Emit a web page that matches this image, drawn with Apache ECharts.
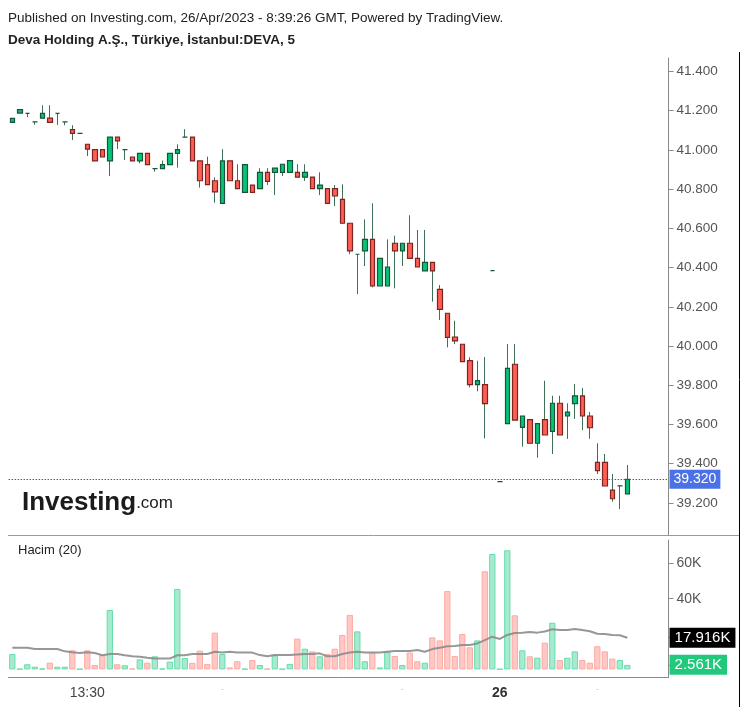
<!DOCTYPE html>
<html>
<head>
<meta charset="utf-8">
<script src="https://cdn.jsdelivr.net/npm/echarts@6/dist/echarts.min.js"></script>
<style>
html,body{margin:0;padding:0;background:#fff;}
#c{width:747px;height:707px;}
</style>
</head>
<body>
<div id="c"></div>
<script>
// ---- categories (5-minute bars) ----
const times = [
 '12:40','12:45','12:50','12:55','13:00','13:05','13:10','13:15','13:20','13:25',
 '13:30','13:35','13:40','13:45','13:50','13:55','14:00','14:05','14:10','14:15',
 '14:20','14:25','14:30','14:35','14:40','14:45','14:50','14:55','15:00','15:05',
 '15:10','15:15','15:20','15:25','15:30','15:35','15:40','15:45','15:50','15:55',
 '16:00','16:05','16:10','16:15','16:20','16:25','16:30','16:35','16:40','16:45',
 '16:50','16:55','17:00','17:05','17:10','17:15','17:20','17:25','17:30','17:35',
 '17:40','17:45','17:50','17:55','18:05','09:55','10:00','10:05','10:10','10:15',
 '10:20','10:25','10:30','10:35','10:40','10:45','10:50','10:55','11:00','11:05',
 '11:10','11:15','11:20','11:25','11:30','11:35','11:40','11:45'
];
// ---- OHLC ----
const opens = [
 41.141,41.188,41.187,41.143,41.162,41.162,41.187,41.143,41.104,41.085,
 41.029,41.002,41.002,40.944,41.065,41.002,40.964,40.944,40.983,40.905,
 40.905,40.925,40.983,41.065,41.065,40.944,40.925,40.843,40.728,40.944,
 40.843,40.784,40.821,40.803,40.886,40.886,40.886,40.886,40.886,40.861,
 40.861,40.803,40.803,40.803,40.748,40.626,40.468,40.485,40.544,40.306,
 40.306,40.524,40.485,40.524,40.447,40.383,40.427,40.289,40.167,40.046,
 40.009,39.925,39.803,39.803,40.384,39.308,39.604,39.907,39.585,39.624,
 39.504,39.624,39.565,39.708,39.643,39.706,39.746,39.643,39.406,39.406,
 39.265,39.287,39.246
];
const closes = [
 41.161,41.206,41.187,41.143,41.187,41.141,41.187,41.143,41.085,41.085,
 41.004,40.944,40.964,41.065,41.046,41.002,40.944,40.983,40.925,40.905,
 40.925,40.983,41.002,41.065,40.944,40.843,40.823,40.786,40.944,40.843,
 40.803,40.925,40.784,40.886,40.840,40.907,40.927,40.946,40.861,40.886,
 40.803,40.821,40.728,40.765,40.626,40.485,40.468,40.544,40.306,40.447,
 40.403,40.485,40.524,40.447,40.403,40.427,40.383,40.187,40.044,40.026,
 39.920,39.803,39.823,39.706,40.384,39.308,39.886,39.622,39.643,39.504,
 39.604,39.546,39.708,39.546,39.663,39.746,39.643,39.583,39.364,39.286,
 39.221,39.287,39.320
];
const lows = [
 41.141,41.188,41.167,41.129,41.162,41.141,41.128,41.126,41.051,41.085,
 40.969,40.944,40.964,40.867,41.005,40.949,40.944,40.932,40.925,40.889,
 40.905,40.925,40.910,41.065,40.944,40.808,40.823,40.731,40.728,40.843,
 40.803,40.784,40.784,40.803,40.821,40.770,40.867,40.886,40.861,40.842,
 40.803,40.770,40.728,40.714,40.626,40.469,40.265,40.408,40.299,40.306,
 40.306,40.294,40.408,40.447,40.403,40.383,40.226,40.133,39.993,40.010,
 39.920,39.789,39.769,39.529,40.384,39.308,39.604,39.622,39.486,39.504,
 39.430,39.546,39.449,39.546,39.526,39.628,39.571,39.527,39.347,39.286,
 39.206,39.168,39.246
];
const highs = [
 41.161,41.206,41.187,41.143,41.228,41.228,41.187,41.143,41.126,41.085,
 41.029,41.002,41.002,41.065,41.065,41.002,40.964,40.983,40.983,40.905,
 40.946,40.983,41.029,41.106,41.065,40.944,40.966,40.860,41.004,40.944,
 40.927,40.925,40.821,40.907,40.907,40.907,40.927,40.946,40.927,40.927,
 40.861,40.886,40.803,40.821,40.825,40.626,40.468,40.646,40.728,40.447,
 40.544,40.563,40.524,40.667,40.592,40.592,40.427,40.311,40.167,40.129,
 40.009,39.942,39.925,39.944,40.384,39.308,40.010,40.010,39.643,39.624,
 39.604,39.823,39.746,39.746,39.708,39.806,39.786,39.663,39.504,39.449,
 39.347,39.287,39.393
];
// ---- volume (thousands) ----
const volumes = [
 8.7,0.3,2.9,1.5,0.5,3.8,1.5,1.5,10.8,0.2,
 10.8,2.5,8.1,33.6,2.9,2.3,0.5,5.7,3.8,7.4,
 0.5,4.4,45.5,6.4,3.7,10.6,3.1,20.8,8.7,1.1,
 4.6,0.3,5.3,2.5,0.3,8.0,0.3,3.1,17.4,11.7,
 10.2,7.4,8.7,11.7,19.5,30.8,21.5,4.6,9.5,1.1,
 10.2,7.6,2.5,9.5,4.6,3.8,18.1,16.4,44.3,7.6,
 20.0,12.5,16.4,55.5,65.3,0.2,67.4,30.6,10.8,7.4,
 6.6,15.1,26.4,5.3,6.6,10.2,5.3,3.8,13.1,10.2,
 6.1,5.3,2.561
];
// ---- volume moving average (20), thousands ----
const volumeMA = [
 12.3,12.3,12.3,11.5,11.5,11.5,11.5,10.2,9.7,9.3,
 9.7,9.3,8.0,8.7,8.7,8.0,7.4,7.2,6.6,6.1,
 6.1,6.1,8.0,8.0,8.7,8.7,8.7,10.0,9.5,10.0,
 9.5,9.5,9.5,8.1,7.4,8.1,8.1,8.1,8.4,8.7,
 8.7,9.1,7.4,7.4,8.7,9.5,10.0,9.5,9.5,9.5,
 10.0,10.4,10.4,10.4,11.0,10.0,11.5,12.3,13.1,13.3,
 13.8,13.8,14.7,16.6,18.5,17.2,19.5,20.6,20.8,21.2,
 20.8,21.4,22.7,22.3,22.3,22.9,22.3,21.6,20.2,20.0,
 19.5,19.3,17.916
];
// ---- tick labels ----
const priceTicks = [39.2,39.4,39.6,39.8,40.0,40.2,40.4,40.6,40.8,41.0,41.2,41.4];
const volumeTicks = [40,60];
const timeTickCats = ['13:30','15:00','17:00','09:55','11:00'];
const timeTickTexts = ['13:30','-','-','26','-'];

// ---- build ----
const UP_FILL='#05c476', UP_BORDER='#17553a', DN_FILL='#ff5e54', DN_BORDER='#7c2420', WICK='#3f6f57';
const LAST_LINE='#2a5cff';
const wickData = opens.map((o,i)=>[o,closes[i],lows[i],highs[i]]);
const bodyData = opens.map((o,i)=>{
  const c=closes[i];
  const item={value:[o,c,Math.min(o,c),Math.max(o,c)]};
  if(o===c) item.itemStyle={borderColor:UP_BORDER,borderColor0:UP_BORDER};
  return item;
});
const volData = volumes.map((v,i)=>{
  const up = closes[i]>=opens[i];
  return {value:v,itemStyle:{color:up?'#a6ead0':'#ffc8c4',borderColor:up?'#66dcab':'#ffa9a3'}};
});
const tickIdx = timeTickCats.map(t=>times.indexOf(t));
const lastClose = closes[closes.length-1];
const lastMA = volumeMA[volumeMA.length-1];
const lastVol = volumes[volumes.length-1];

const FONT='"Liberation Sans", Arial, sans-serif';
const HIDDEN='rgba(0,0,0,0)';
const chart = echarts.init(document.getElementById('c'),null,{renderer:'canvas'});
chart.setOption({
  animation:false,
  backgroundColor:'#fff',
  textStyle:{fontFamily:FONT},
  grid:[
    {left:8.55,top:58,width:660,height:477},
    {left:8.55,top:540,width:660,height:137}
  ],
  xAxis:[
    {type:'category',gridIndex:0,data:times,boundaryGap:true,show:false},
    {type:'category',gridIndex:1,data:times,boundaryGap:true,
     axisLine:{onZero:false,lineStyle:{color:'#8a8a8a',width:1}},
     axisTick:{alignWithLabel:true,length:5,interval:(i)=>tickIdx.includes(i),lineStyle:{color:'#8a8a8a'}},
     axisLabel:{interval:(i)=>tickIdx.includes(i),margin:9,color:'#444',fontSize:14,fontFamily:FONT,
       formatter:(v)=>{const k=timeTickCats.indexOf(v);if(k<0)return '';const t=timeTickTexts[k];
         if(t==='26')return '{b|26}'; if(t==='-')return '{d|-}'; return t;},
       rich:{b:{fontWeight:'bold',fontSize:14,color:'#333',fontFamily:FONT},d:{fontSize:7,color:'#aaa'}}},
     splitLine:{show:false}}
  ],
  yAxis:[
    {type:'value',gridIndex:0,position:'right',min:39.036,max:41.469,scale:true,
     axisLine:{show:true,lineStyle:{color:'#8a8a8a'}},
     axisTick:{show:true,length:5,customValues:priceTicks,lineStyle:{color:'#8a8a8a'}},
     axisLabel:{customValues:priceTicks,formatter:(v)=>v.toFixed(3),color:'#555',fontSize:13.5,margin:8,fontFamily:FONT},
     splitLine:{show:false}},
    {type:'value',gridIndex:1,position:'right',min:-4.3,max:73.2,
     axisLine:{show:true,lineStyle:{color:'#8a8a8a'}},
     axisTick:{show:true,length:5,customValues:volumeTicks.concat([lastMA,lastVol]),lineStyle:{color:'#8a8a8a'}},
     axisLabel:{customValues:volumeTicks,formatter:(v)=>v+'K',color:'#555',fontSize:14,margin:8,fontFamily:FONT},
     splitLine:{show:false}}
  ],
  series:[
    {type:'candlestick',name:'wick',xAxisIndex:0,yAxisIndex:0,data:wickData,barWidth:1,
     itemStyle:{color:WICK,color0:WICK,borderColor:WICK,borderColor0:WICK,borderWidth:1},z:2},
    {type:'candlestick',name:'body',xAxisIndex:0,yAxisIndex:0,data:bodyData,barWidth:5,
     itemStyle:{color:UP_FILL,color0:DN_FILL,borderColor:UP_BORDER,borderColor0:DN_BORDER,borderWidth:1.2},z:3,
     markLine:{symbol:'none',silent:true,
       lineStyle:{color:LAST_LINE,type:[1.5,1.5],width:1.2,opacity:1},
       label:{position:'end',distance:1,formatter:()=>lastClose.toFixed(3),backgroundColor:'#4a72e6',color:'#fff',
              padding:[3,4,2,4],fontSize:14,fontFamily:FONT},
       data:[{yAxis:lastClose,lineStyle:{color:LAST_LINE,type:[1.5,1.5],width:1.2}}]}},
    {type:'bar',xAxisIndex:1,yAxisIndex:1,data:volData,barWidth:6.3,
     itemStyle:{borderWidth:1},z:2,
     markLine:{symbol:'none',silent:true,lineStyle:{color:HIDDEN,width:1},
       label:{show:true,position:'end',distance:1,formatter:()=>lastVol.toFixed(3)+'K',backgroundColor:'#22c97c',color:'#fff',
              padding:[3,5,2,5],fontSize:15,fontFamily:FONT},
       data:[{yAxis:lastVol}]}},
    {type:'line',xAxisIndex:1,yAxisIndex:1,data:volumeMA,symbol:'none',
     lineStyle:{color:'#8c8c8c',width:2,opacity:0.9},z:4,
     markLine:{symbol:'none',silent:true,lineStyle:{color:HIDDEN,width:1},
       label:{show:true,position:'end',distance:1,formatter:()=>lastMA.toFixed(3)+'K',backgroundColor:'#000',color:'#fff',
              padding:[3,5,2,5],fontSize:15,fontFamily:FONT},
       data:[{yAxis:lastMA}]}}
  ],
  graphic:[
    {type:'text',left:8,top:11,style:{text:'Published on Investing.com, 26/Apr/2023 - 8:39:26 GMT, Powered by TradingView.',
      font:'13.5px "Liberation Sans", Arial, sans-serif',fill:'#222'}},
    {type:'text',left:8,top:33,style:{text:'Deva Holding A.Ş., Türkiye, İstanbul:DEVA, 5',
      font:'bold 13.5px "Liberation Sans", Arial, sans-serif',fill:'#222'}},
    {type:'text',left:18,top:544,style:{text:'Hacim (20)',font:'13px "Liberation Sans", Arial, sans-serif',fill:'#222'}},
    {type:'text',left:22,top:490,style:{text:'{a|Investing}{b|.com}',
      rich:{a:{font:'bold 26px "Liberation Sans", Arial, sans-serif',fill:'#1b1b1b'},
            b:{font:'17px "Liberation Sans", Arial, sans-serif',fill:'#1b1b1b'}}}},
    {type:'line',shape:{x1:8,y1:535.5,x2:739,y2:535.5},style:{stroke:'#9a9a9a',lineWidth:1}},
    {type:'line',shape:{x1:739.5,y1:52,x2:739.5,y2:707},style:{stroke:'#000',lineWidth:1}}
  ]
});
</script>
</body>
</html>
